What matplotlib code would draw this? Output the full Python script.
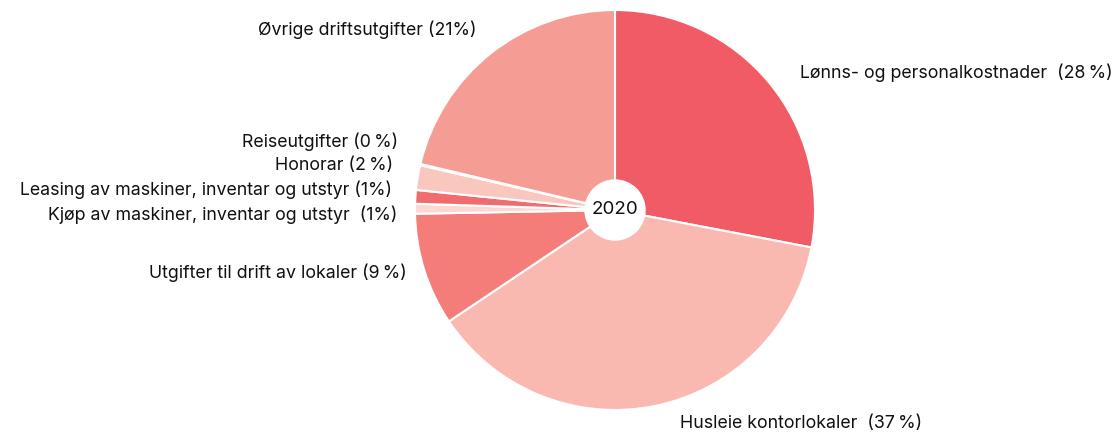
import matplotlib
matplotlib.use("Agg")
import matplotlib.pyplot as plt

plt.rcParams['font.family'] = ['Inter', 'DejaVu Sans']

# Driftsutgifter 2020, andel i prosent
categories = [
    "Lønns- og personalkostnader",
    "Husleie kontorlokaler",
    "Utgifter til drift av lokaler",
    "Kjøp av maskiner, inventar og utstyr",
    "Leasing av maskiner, inventar og utstyr",
    "Honorar",
    "Reiseutgifter",
    "Øvrige driftsutgifter",
]
shares = [28.0, 37.6, 9.1, 0.8, 1.1, 2.0, 0.1, 21.3]
labels = [
    "Lønns- og personalkostnader  (28\u2009%)",
    "Husleie kontorlokaler  (37\u2009%)",
    "Utgifter til drift av lokaler (9\u2009%)",
    "Kjøp av maskiner, inventar og utstyr  (1%)",
    "Leasing av maskiner, inventar og utstyr (1%)",
    "Honorar (2\u2009%)",
    "Reiseutgifter (0\u2009%)",
    "Øvrige driftsutgifter (21%)",
]
colors = ["#f05b65", "#f9b9b1", "#f47d79", "#fcd8d2",
          "#f06c6f", "#fac7bf", "#fde3de", "#f59d94"]
center_text = "2020"

W, H = 1118, 434
cx, cy, R = 615, 210, 200  # pixel layout of the pie


def to_data(px, py):
    return (px - cx) / R, (cy - py) / R


fig = plt.figure(figsize=(W / 100, H / 100), dpi=100)
ax = fig.add_axes([0, 0, 1, 1])

ax.pie(shares, colors=colors, startangle=90, counterclock=False,
       radius=1.0, center=(0, 0),
       wedgeprops=dict(edgecolor='white', linewidth=1.5))
ax.add_patch(plt.Circle((0, 0), 0.15, color='white', zorder=5))
ax.text(0, 0, center_text, ha='center', va='center', fontsize=13.5,
        color='#111111', zorder=6)

# pie() resets the limits, so set them afterwards
ax.set_xlim(-cx / R, (W - cx) / R)
ax.set_ylim(-(H - cy) / R, cy / R)
ax.set_aspect('equal')
ax.axis('off')

# label anchor points in pixels (x, y, alignment)
label_pos = [
    (800, 73, 'left'),
    (680, 423, 'left'),
    (407, 273, 'right'),
    (397, 215, 'right'),
    (392, 190, 'right'),
    (393, 166, 'right'),
    (398, 142, 'right'),
    (477, 30, 'right'),
]
for lab, (px, py, ha) in zip(labels, label_pos):
    x, y = to_data(px, py)
    ax.text(x, y, lab, ha=ha, va='center', fontsize=12.8, color='#111111')

fig.savefig("out.png", dpi=100)
